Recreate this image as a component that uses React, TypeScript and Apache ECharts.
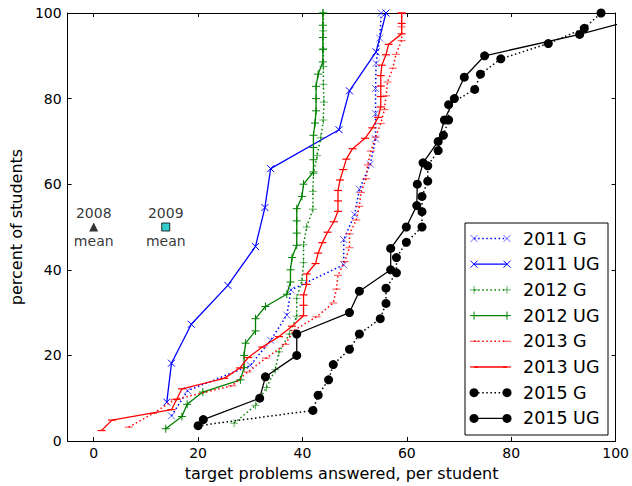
import { useEffect, useRef } from "react";
import * as echarts from "echarts";

// ---- data: target problems answered per student (sorted scores) ----
const scores2011G = [14.9, 18.0, 30.0, 33.9, 37.0, 37.8, 47.9, 47.9, 50.0, 50.9, 53.0, 54.0, 54.0, 54.0, 54.1, 54.8, 55.1];
const scores2011UG = [14.0, 14.9, 18.7, 25.7, 31.0, 32.8, 33.9, 47.0, 49.0, 54.1, 56.0];
const scores2012G = [26.9, 31.0, 33.1, 34.8, 35.5, 37.5, 38.9, 38.9, 39.9, 40.2, 40.2, 40.8, 42.0, 42.0, 42.1, 42.8, 43.5, 44.0, 44.1, 44.0, 44.0, 44.0, 44.0, 44.0];
const scores2012UG = [13.8, 16.9, 17.9, 20.9, 28.1, 28.8, 28.8, 29.1, 31.0, 31.0, 32.9, 37.0, 37.7, 37.7, 38.0, 38.9, 38.9, 38.9, 38.9, 39.9, 40.2, 42.1, 42.1, 42.1, 42.1, 42.4, 42.6, 42.6, 42.6, 43.0, 43.9, 43.9, 43.9, 43.9, 43.9];
const scores2013G = [6.7, 11.4, 15.5, 26.5, 29.5, 33.0, 36.7, 38.3, 42.7, 45.9, 46.5, 46.8, 48.1, 49.0, 49.0, 50.3, 50.9, 51.2, 52.2, 52.5, 53.1, 54.0, 55.0, 55.7, 56.0, 56.3, 57.3, 57.9, 59.0, 59.0, 59.0];
const scores2013UG = [1.5, 3.5, 14.9, 15.9, 16.9, 25.0, 28.0, 29.6, 32.3, 35.5, 38.0, 40.2, 40.2, 40.2, 40.8, 40.8, 42.5, 43.0, 43.8, 44.8, 46.0, 46.8, 46.8, 46.8, 47.2, 47.8, 48.4, 49.6, 52.0, 53.4, 54.5, 55.0, 55.0, 55.0, 55.0, 55.2, 56.0, 56.5, 59.0, 59.0, 59.0];
const scores2015G = [20.0, 42.0, 43.0, 45.0, 45.9, 49.0, 50.9, 54.9, 56.0, 56.0, 58.0, 58.0, 59.9, 62.9, 62.9, 62.9, 64.0, 64.0, 66.0, 67.0, 68.0, 68.0, 73.0, 74.1, 78.0, 87.1, 94.0, 97.2];
const scores2015UG = [21.0, 31.8, 32.9, 38.9, 38.9, 49.0, 50.9, 56.9, 56.9, 59.9, 61.9, 62.0, 63.1, 66.0, 67.2, 69.1, 71.0, 74.9, 93.1, 108.5];

const seriesNames = ["2011 G", "2011 UG", "2012 G", "2012 UG", "2013 G", "2013 UG", "2015 G", "2015 UG"];
const seriesScores = [scores2011G, scores2011UG, scores2012G, scores2012UG, scores2013G, scores2013UG, scores2015G, scores2015UG];

const meanLabels = ["2008", "2009"];
const meanX = [0, 13.8];
const meanY = [50, 50];

const xTickValues = [0, 20, 40, 60, 80, 100];
const yTickValues = [0, 20, 40, 60, 80, 100];

// ---- styles ----
const FONT = "DejaVu Sans";
const STYLES = [
  { color: "#0000ff", dotted: true, marker: "x" },
  { color: "#0000ff", dotted: false, marker: "x" },
  { color: "#008000", dotted: true, marker: "plus" },
  { color: "#008000", dotted: false, marker: "plus" },
  { color: "#ff0000", dotted: true, marker: "hline" },
  { color: "#ff0000", dotted: false, marker: "hline" },
  { color: "#000000", dotted: true, marker: "circle" },
  { color: "#000000", dotted: false, marker: "circle" },
];

const DOT_DASH = [1.5, 2.6];

function toCdf(scores: number[]) {
  // empirical cumulative distribution: percent of students with score <= value
  return scores.map((v, i) => [v, ((i + 1) / scores.length) * 100]);
}

function symbolFor(marker: string): { symbol: string; size: number | number[] } {
  if (marker === "x") return { symbol: "path://M0,0L10,10M10,0L0,10", size: 7 };
  if (marker === "plus") return { symbol: "path://M5,0L5,10M0,5L10,5", size: 8 };
  if (marker === "hline") return { symbol: "rect", size: [8, 1.2] };
  return { symbol: "circle", size: 9 };
}

function markerOpacity(s: { dotted: boolean; marker: string }) {
  return s.dotted && s.marker !== "circle" ? 0.6 : 1;
}

function legendMarker(marker: string, cx: number, cy: number, color: string, opacity: number) {
  const st = { stroke: color, lineWidth: 1, opacity };
  if (marker === "x") {
    return [
      { type: "line", shape: { x1: cx - 3.5, y1: cy - 3.5, x2: cx + 3.5, y2: cy + 3.5 }, style: st },
      { type: "line", shape: { x1: cx - 3.5, y1: cy + 3.5, x2: cx + 3.5, y2: cy - 3.5 }, style: st },
    ];
  }
  if (marker === "plus") {
    return [
      { type: "line", shape: { x1: cx - 4, y1: cy, x2: cx + 4, y2: cy }, style: st },
      { type: "line", shape: { x1: cx, y1: cy - 4, x2: cx, y2: cy + 4 }, style: st },
    ];
  }
  if (marker === "hline") {
    return [{ type: "line", shape: { x1: cx - 4, y1: cy, x2: cx + 4, y2: cy }, style: { stroke: color, lineWidth: 1.2, opacity } }];
  }
  return [{ type: "circle", shape: { cx, cy, r: 4.5 }, style: { fill: color } }];
}

function buildLegend() {
  const box = { left: 465, top: 223, right: 608, bottom: 435 };
  const rowTop = 238.5;
  const rowGap = 25.7;
  const x1 = 474;
  const x2 = 507;
  const tx = 523;
  const els: any[] = [
    {
      type: "rect",
      shape: { x: box.left, y: box.top, width: box.right - box.left, height: box.bottom - box.top },
      style: { fill: "#ffffff", stroke: "#000000", lineWidth: 1 },
      z: 100,
    },
  ];
  seriesNames.forEach((name, i) => {
    const s = STYLES[i];
    const cy = rowTop + i * rowGap;
    const op = markerOpacity(s);
    els.push({
      type: "line",
      shape: { x1, y1: cy, x2, y2: cy },
      style: { stroke: s.color, lineWidth: s.dotted ? 1.5 : 1.3, lineDash: s.dotted ? DOT_DASH : null },
      z: 101,
    });
    legendMarker(s.marker, x1, cy, s.color, op).forEach((e) => els.push({ ...e, z: 102 }));
    legendMarker(s.marker, x2, cy, s.color, op).forEach((e) => els.push({ ...e, z: 102 }));
    els.push({
      type: "text",
      x: tx,
      y: cy,
      style: { text: name, fill: "#000000", font: `17.5px "${FONT}"`, textVerticalAlign: "middle", verticalAlign: "middle" },
      z: 102,
    });
  });
  return els;
}

export default function App() {
  const ref = useRef<HTMLDivElement>(null);
  useEffect(() => {
    if (!ref.current) return;
    document.body.style.margin = "0";
    const chart = echarts.init(ref.current, null, { renderer: "svg" });
    const axisLine = { show: true, onZero: false, lineStyle: { color: "#000000", width: 1 } };
    const tick = { show: true, inside: true, length: 4, lineStyle: { color: "#000000", width: 1 } };

    const lineSeries = seriesNames.map((name, i) => {
      const s = STYLES[i];
      const sym = symbolFor(s.marker);
      return {
        name,
        type: "line",
        data: toCdf(seriesScores[i]),
        xAxisIndex: 0,
        yAxisIndex: 0,
        clip: true,
        symbol: sym.symbol,
        symbolSize: sym.size,
        showSymbol: true,
        showAllSymbol: true,
        lineStyle: { color: s.color, width: s.dotted ? 1.5 : 1.3, type: s.dotted ? DOT_DASH : "solid" },
        itemStyle: {
          color: s.color,
          borderColor: s.color,
          borderWidth: s.marker === "x" || s.marker === "plus" ? 1 : 0,
          opacity: markerOpacity(s),
        },
        emphasis: { disabled: true },
        z: 2 + i,
      };
    });

    const meanSymbols = ["triangle", "rect"];
    const meanFills = ["#000000", "#00bfbf"];
    const meanSeries: any[] = [];
    meanLabels.forEach((lab, i) => {
      meanSeries.push({
        type: "scatter",
        data: [[meanX[i], meanY[i]]],
        symbol: meanSymbols[i],
        symbolSize: i === 0 ? 9 : 8,
        itemStyle: { color: meanFills[i], borderColor: "#000000", borderWidth: i === 0 ? 0 : 1 },
        label: { show: true, position: "top", distance: 3, formatter: lab, color: "#000000", fontSize: 14, fontFamily: FONT },
        emphasis: { disabled: true },
        z: 20,
      });
      meanSeries.push({
        type: "scatter",
        data: [[meanX[i], meanY[i]]],
        symbol: "circle",
        symbolSize: 8,
        itemStyle: { color: "rgba(0,0,0,0)", borderWidth: 0 },
        label: { show: true, position: "bottom", distance: 3, formatter: "mean", color: "#000000", fontSize: 14, fontFamily: FONT },
        emphasis: { disabled: true },
        z: 19,
      });
    });

    chart.setOption({
      animation: false,
      backgroundColor: "#ffffff",
      textStyle: { fontFamily: FONT },
      grid: { left: 62, top: 13, width: 554, height: 430, containLabel: false },
      xAxis: [
        {
          type: "value",
          min: -5,
          max: 100,
          position: "bottom",
          axisLine,
          axisTick: { ...tick, customValues: xTickValues },
          axisLabel: { customValues: xTickValues, color: "#000000", fontSize: 14, fontFamily: FONT, margin: 5 },
          splitLine: { show: false },
          name: "target problems answered, per student",
          nameLocation: "middle",
          nameGap: 24,
          nameTextStyle: { color: "#000000", fontSize: 16, fontFamily: FONT },
        },
        {
          type: "value",
          min: -5,
          max: 100,
          position: "top",
          axisLine,
          axisTick: { ...tick, customValues: xTickValues },
          axisLabel: { show: false, customValues: xTickValues },
          splitLine: { show: false },
        },
      ],
      yAxis: [
        {
          type: "value",
          min: 0,
          max: 100,
          interval: 20,
          position: "left",
          axisLine,
          axisTick: { ...tick, customValues: yTickValues },
          axisLabel: { color: "#000000", fontSize: 14, fontFamily: FONT, margin: 6 },
          splitLine: { show: false },
          name: "percent of students",
          nameLocation: "middle",
          nameGap: 34,
          nameTextStyle: { color: "#000000", fontSize: 16, fontFamily: FONT },
        },
        {
          type: "value",
          min: 0,
          max: 100,
          interval: 20,
          position: "right",
          axisLine,
          axisTick: tick,
          axisLabel: { show: false },
          splitLine: { show: false },
        },
      ],
      graphic: buildLegend(),
      series: [...lineSeries, ...meanSeries],
    });
    return () => chart.dispose();
  }, []);
  return <div ref={ref} style={{ width: 632, height: 486 }} />;
}
